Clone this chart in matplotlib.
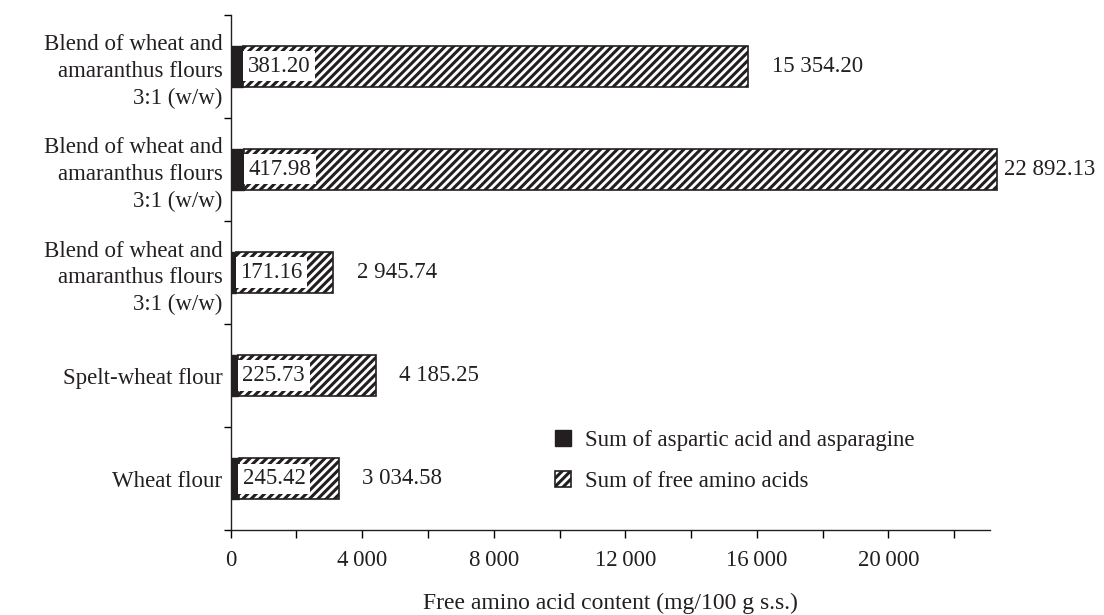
import numpy as np
import matplotlib.pyplot as plt
from matplotlib.ticker import FixedLocator, MultipleLocator

plt.rcParams['font.family'] = ['Liberation Serif', 'DejaVu Serif']
plt.rcParams['hatch.linewidth'] = 2.2
plt.rcParams['hatch.color'] = '#111111'

# data, top to bottom as in the figure
categories = ['Blend of wheat and\namaranthus flours\n3:1 (w/w)',
              'Blend of wheat and\namaranthus flours\n3:1 (w/w)',
              'Blend of wheat and\namaranthus flours\n3:1 (w/w)',
              'Spelt-wheat flour',
              'Wheat flour']
asp_asn = [381.20, 417.98, 171.16, 225.73, 245.42]
free_aa = [15354.20, 22892.13, 2945.74, 4185.25, 3034.58]
asp_labels = ['381.20', '417.98', '171.16', '225.73', '245.42']
total_labels = ['15 354.20', '22 892.13', '2 945.74', '4 185.25', '3 034.58']
xtick_vals = [0, 4000, 8000, 12000, 16000, 20000]
xtick_labels = ['0', '4\u2009000', '8\u2009000', '12\u2009000', '16\u2009000', '20\u2009000']

txt = '#231f20'
fs = 16.5
xmax = 23100

fig = plt.figure(figsize=(11.04, 6.15), dpi=100)
ax = fig.add_axes([0.209, 0.138, 0.688, 0.838])

y = np.arange(len(categories))
ax.barh(y, asp_asn, height=0.4, color='#231f20', edgecolor='#231f20',
        linewidth=1, label='Sum of aspartic acid and asparagine')
ax.barh(y, free_aa, left=asp_asn, height=0.4, color='white', edgecolor='#231f20',
        linewidth=1.2, hatch='////', label='Sum of free amino acids', clip_on=False)

for i in range(len(categories)):
    end = asp_asn[i] + free_aa[i]
    ax.annotate(asp_labels[i], xy=(asp_asn[i], y[i]), xytext=(3, 0),
                textcoords='offset points', ha='left', va='center', fontsize=fs,
                color=txt, bbox=dict(boxstyle='square,pad=0.2', fc='white', ec='none'))
    off = 17 if end < xmax else 5
    ax.annotate(total_labels[i], xy=(end, y[i]), xytext=(off, 0),
                textcoords='offset points', ha='left', va='center', fontsize=fs,
                color=txt, annotation_clip=False)

ax.set_xlim(0, xmax)
ax.set_ylim(len(categories) - 0.5, -0.5)

ax.set_yticks(y)
ax.set_yticklabels(categories, fontsize=fs, color=txt, linespacing=1.35)
ax.tick_params(axis='y', which='major', length=0, pad=6)
ax.yaxis.set_minor_locator(FixedLocator(np.arange(-0.5, len(categories), 1)))
ax.tick_params(axis='y', which='minor', length=5, width=1, direction='out')

ax.set_xticks(xtick_vals)
ax.set_xticklabels(xtick_labels, fontsize=fs, color=txt)
ax.xaxis.set_minor_locator(MultipleLocator(2000))
ax.tick_params(axis='x', which='both', length=6, width=1, direction='out', pad=8)

for s in ['top', 'right']:
    ax.spines[s].set_visible(False)
for s in ['left', 'bottom']:
    ax.spines[s].set_linewidth(1)
    ax.spines[s].set_color('#231f20')

ax.set_xlabel('Free amino acid content (mg/100 g s.s.)', fontsize=17, color=txt, labelpad=16)

ax.legend(loc='upper left', bbox_to_anchor=(0.40, 0.235), frameon=False, fontsize=fs,
          handlelength=0.7, handleheight=0.7, labelspacing=0.9, handletextpad=0.6,
          labelcolor=txt)

fig.savefig('out.png', dpi=100)
